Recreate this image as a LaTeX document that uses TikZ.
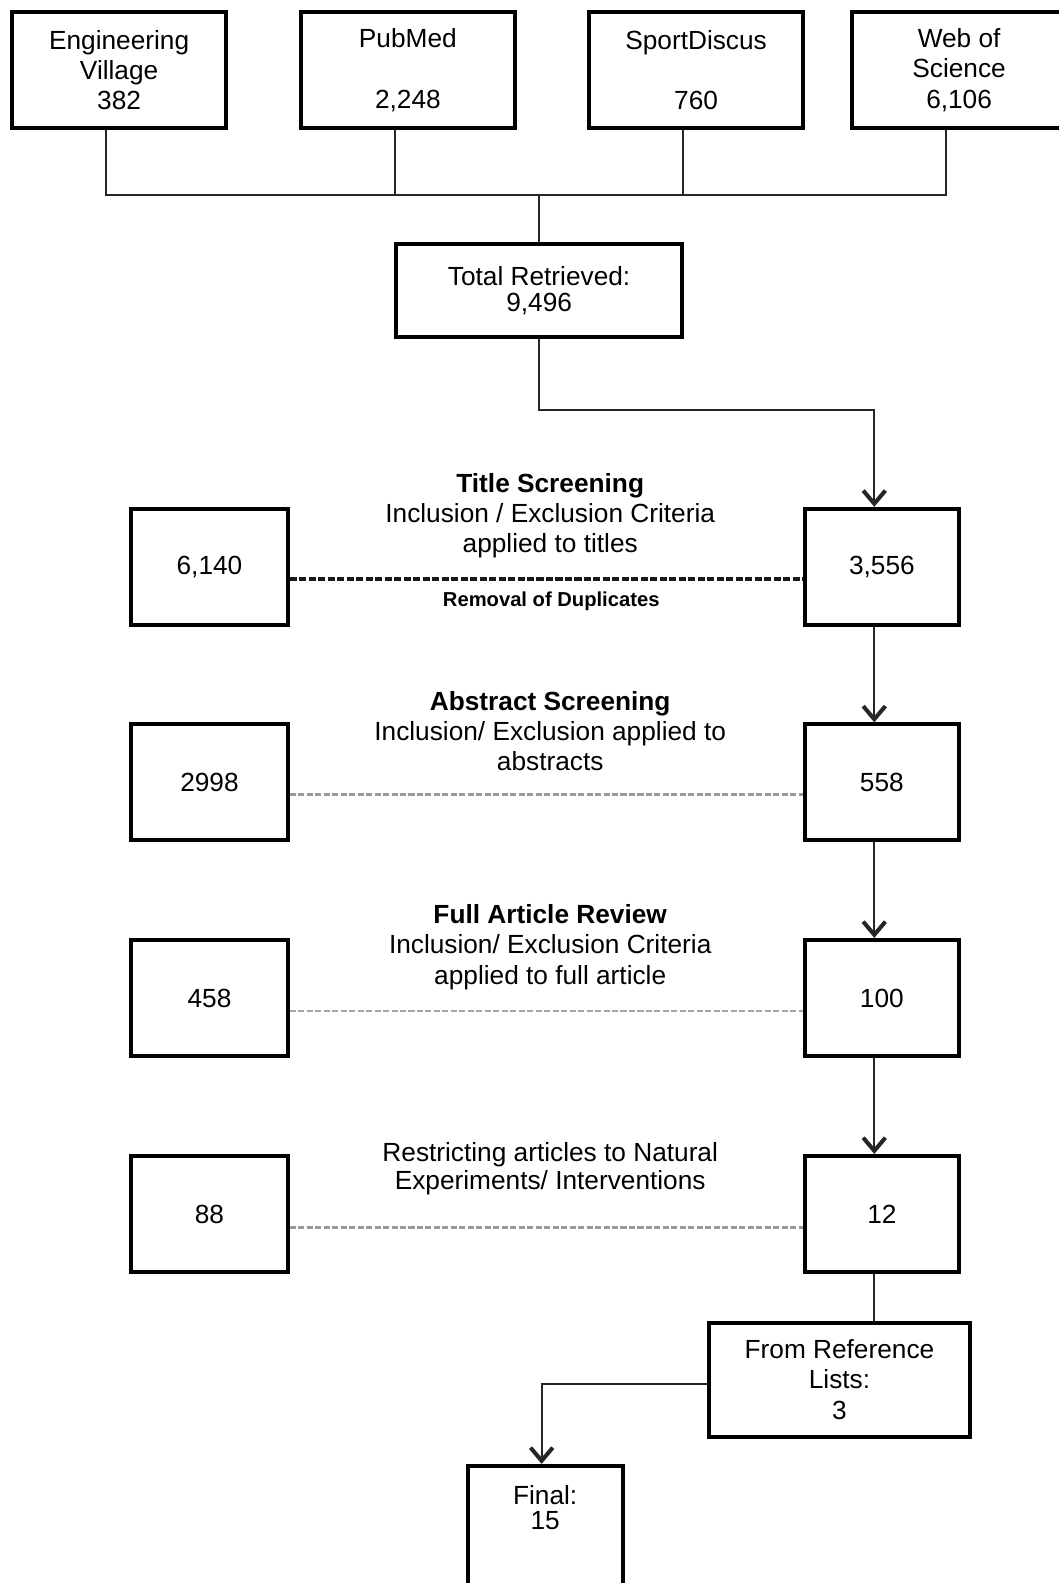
\documentclass[tikz,border=0pt]{standalone}
\usepackage{fontspec}
\setmainfont{Liberation Sans}
\usetikzlibrary{arrows.meta,calc}
\begin{document}
\begin{tikzpicture}[x=0.5pt,y=-0.5pt,
  box/.style={draw, line width=2pt, inner sep=0pt, align=center, font=\fontsize{13}{15}\selectfont},
  topbox/.style={box, minimum width=106pt, minimum height=57.5pt},
  sidebox/.style={box, minimum width=77.5pt, minimum height=57.5pt},
  conn/.style={line width=1pt, draw=black!85},
  arr/.style={conn, -{Straight Barb[length=6.5pt,width=11pt,line width=2pt]}},
  lbl/.style={align=center, inner sep=0pt, font=\fontsize{13}{15}\selectfont},
  dashA/.style={line width=1.5pt, draw=black!90, dash pattern=on 3.5pt off 1.2pt},
  dashB/.style={line width=1.3pt, draw=gray!80, dash pattern=on 3pt off 1.2pt},
]
\useasboundingbox (0,0) rectangle (1048,1568);
\fill[white] (0,0) rectangle (1048,1568);

% top sources
\node[topbox] (ev)  at (118,69.5)   {Engineering\\Village\\382};
\node[topbox] (pm)  at (404,69.5)   {PubMed\\[15pt]2,248};
\node[topbox] (sd)  at (689.5,69.5) {SportDiscus\\[15pt]760};
\node[topbox] (wos) at (950,69.5)   {Web of\\Science\\6,106};

\node[box, minimum width=142pt, minimum height=46pt, font=\fontsize{13}{13}\selectfont] (total) at (534,288) {Total Retrieved:\\9,496};

% bus
\coordinate (bus) at (534,193);
\coordinate (evd) at ($(ev.south)+(-13,0)$);
\coordinate (pmd) at ($(pm.south)+(-13,0)$);
\coordinate (sdd) at ($(sd.south)+(-13,0)$);
\coordinate (wod) at ($(wos.south)+(-13,0)$);
\draw[conn] (evd) |- (bus);
\draw[conn] (wod) |- (bus);
\draw[conn] (pmd) -- (pmd |- bus);
\draw[conn] (sdd) -- (sdd |- bus);
\draw[conn] (bus) -- (total.north);

% side boxes
\node[sidebox] (l1) at (207.5,561.5)  {6,140};
\node[sidebox] (l2) at (207.5,775)    {2998};
\node[sidebox] (l3) at (207.5,988.5)  {458};
\node[sidebox] (l4) at (207.5,1202.5) {88};
\node[sidebox, minimum width=76.5pt] (r1) at (873.5,561.5)  {3,556};
\node[sidebox, minimum width=76.5pt] (r2) at (873.5,775)    {558};
\node[sidebox, minimum width=76.5pt] (r3) at (873.5,988.5)  {100};
\node[sidebox, minimum width=76.5pt] (r4) at (873.5,1202.5) {12};

\node[box, minimum width=129.5pt, minimum height=56.5pt] (ref) at (831.5,1366.5) {From Reference\\Lists:\\3};
\node[box, minimum width=76.5pt, minimum height=80pt, anchor=north] (final) at (540.5,1450) {};
\node[lbl, font=\fontsize{13}{12.5}\selectfont] (finaltxt) at (540,1493) {Final:\\15};

% stage labels
\node[lbl] (t1) at (545,511) {\textbf{Title Screening}\\Inclusion / Exclusion Criteria\\applied to titles};
\node[lbl, font=\bfseries\fontsize{10}{12}\selectfont] (t1b) at (546,596) {Removal of Duplicates};
\node[lbl] (t2) at (545,724) {\textbf{Abstract Screening}\\Inclusion/ Exclusion applied to\\abstracts};
\node[lbl] (t3) at (545,938) {\textbf{Full Article Review}\\Inclusion/ Exclusion Criteria\\applied to full article};
\node[lbl, font=\fontsize{13}{13.5}\selectfont] (t4) at (545,1157.5) {Restricting articles to Natural\\Experiments/ Interventions};

% dashed links
\draw[dashA] ($(l1.east)+(0,12)$) -- ($(r1.west)+(0,12)$);
\draw[dashB] ($(l2.east)+(0,12)$) -- ($(r2.west)+(0,12)$);
\draw[dashB, line width=1pt, draw=gray!70] ($(l3.east)+(0,12.5)$) -- ($(r3.west)+(0,12.5)$);
\draw[dashB] ($(l4.east)+(0,13.5)$) -- ($(r4.west)+(0,13.5)$);

% main flow
\coordinate (spine) at (866,0);
\draw[arr] (total.south) -- ++(0,70) -| (r1.north -| spine);
\draw[arr] (r1.south -| spine) -- (r2.north -| spine);
\draw[arr] (r2.south -| spine) -- (r3.north -| spine);
\draw[arr] (r3.south -| spine) -- (r4.north -| spine);
\draw[conn] (r4.south -| spine) -- (ref.north -| spine);
\draw[arr] ($(ref.west)+(0,4)$) -| ($(final.north)+(-4,0)$);
\end{tikzpicture}
\end{document}
